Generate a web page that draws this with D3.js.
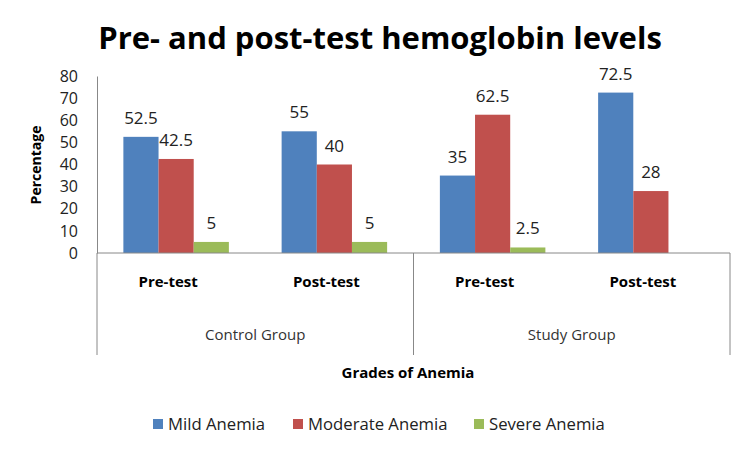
<!DOCTYPE html>
<html>
<head>
<meta charset="utf-8">
<script src="https://cdn.jsdelivr.net/npm/d3@7"></script>
<style>
body { margin: 0; background: #fff; }
text { font-family: "Open Sans", "Noto Sans", sans-serif; }
</style>
</head>
<body>
<div id="chart-area"></div>
<script>
// data
var groups = ["Control Group", "Study Group"]
var tests = ["Pre-test", "Post-test"]
var series = ["Mild Anemia", "Moderate Anemia", "Severe Anemia"]
var mild = [52.5, 55, 35, 72.5]
var moderate = [42.5, 40, 62.5, 28]
var severe = [5, 5, 2.5, null]
var yTicks = [0, 10, 20, 30, 40, 50, 60, 70, 80]
var colors = ["#4F81BD", "#C0504D", "#9BBB59"]

var width = 750, height = 450
var margin = {top: 76, right: 20, bottom: 197, left: 97}
var innerW = 730 - margin.left
var innerH = 253 - margin.top

var svg = d3.select("#chart-area").append("svg")
.attr("width", width)
.attr("height", height)

var g = svg.append("g")
.attr("transform", "translate(" + margin.left + ", " + margin.top + ")")

// categories: group|test
var cats = []
groups.forEach(gr => tests.forEach(t => cats.push(gr + "|" + t)))
var values = [mild, moderate, severe]

var x0 = d3.scaleBand().domain(cats).range([0, innerW])
var x1 = d3.scaleBand().domain(series).range([0, x0.bandwidth()]).paddingOuter(0.75)
var y = d3.scaleLinear().domain([0, 80]).range([innerH, 0])
var color = d3.scaleOrdinal().domain(series).range(colors)

// title
svg.append("text")
.attr("x", 380)
.attr("y", 49)
.attr("text-anchor", "middle")
.attr("font-size", "31px")
.attr("font-weight", "bold")
.style("fill", "#000")
.text("Pre- and post-test hemoglobin levels")

// y axis
var yAxisCall = d3.axisLeft(y).tickValues(yTicks).tickSize(0).tickPadding(19)
var yAxisGroup = g.append("g").call(yAxisCall)
yAxisGroup.select(".domain").attr("stroke", "#888")
yAxisGroup.selectAll("text").attr("font-size", "16px").style("fill", "#222")

svg.append("text")
.attr("x", -165)
.attr("y", 41)
.attr("transform", "rotate(-90)")
.attr("text-anchor", "middle")
.attr("font-size", "14px")
.attr("font-weight", "bold")
.text("Percentage")

// bars
var bars = []
cats.forEach((c, i) => series.forEach((s, j) => {
    bars.push({cat: c, series: s, value: values[j][i]})
}))

var cg = g.selectAll("g.cat").data(cats).enter().append("g")
.attr("class", "cat")
.attr("transform", d => "translate(" + x0(d) + ",0)")

cg.selectAll("rect")
.data(c => bars.filter(b => b.cat == c && b.value != null))
.enter().append("rect")
.attr("x", d => x1(d.series))
.attr("y", d => y(d.value))
.attr("width", x1.bandwidth())
.attr("height", d => innerH - y(d.value))
.attr("fill", d => color(d.series))

cg.selectAll("text.val")
.data(c => bars.filter(b => b.cat == c && b.value != null))
.enter().append("text")
.attr("class", "val")
.attr("x", d => x1(d.series) + x1.bandwidth() / 2)
.attr("y", d => y(d.value) - 13)
.attr("text-anchor", "middle")
.attr("font-size", "17px")
.style("fill", "#222")
.text(d => d.value)

// category axis (two levels)
var axisColor = "#888"
g.append("line")
.attr("x1", 0).attr("x2", innerW)
.attr("y1", innerH).attr("y2", innerH)
.attr("stroke", axisColor)

var gw = innerW / groups.length
d3.range(groups.length + 1).forEach(i => {
    g.append("line")
    .attr("x1", i * gw).attr("x2", i * gw)
    .attr("y1", innerH).attr("y2", innerH + 102)
    .attr("stroke", axisColor)
})

cats.forEach(c => {
    g.append("text")
    .attr("x", x0(c) + x0.bandwidth() / 2 - 8)
    .attr("y", innerH + 34)
    .attr("text-anchor", "middle")
    .attr("font-size", "15px")
    .attr("font-weight", "bold")
    .text(c.split("|")[1])
})

groups.forEach((gr, i) => {
    g.append("text")
    .attr("x", i * gw + gw / 2)
    .attr("y", innerH + 87)
    .attr("text-anchor", "middle")
    .attr("font-size", "15px")
    .style("fill", "#333")
    .text(gr)
})

svg.append("text")
.attr("x", 408)
.attr("y", 378)
.attr("text-anchor", "middle")
.attr("font-size", "15px")
.attr("font-weight", "bold")
.text("Grades of Anemia")

// legend
var legendX = [153, 293, 474]
var legend = svg.selectAll("g.legend").data(series).enter().append("g")
.attr("class", "legend")
.attr("transform", (d, i) => "translate(" + legendX[i] + ", 424)")

legend.append("rect")
.attr("x", 0).attr("y", -5)
.attr("width", 10).attr("height", 10)
.attr("fill", d => color(d))

legend.append("text")
.attr("x", 15)
.attr("y", 6)
.attr("font-size", "16.7px")
.style("fill", "#222")
.text(d => d)
</script>
</body>
</html>
